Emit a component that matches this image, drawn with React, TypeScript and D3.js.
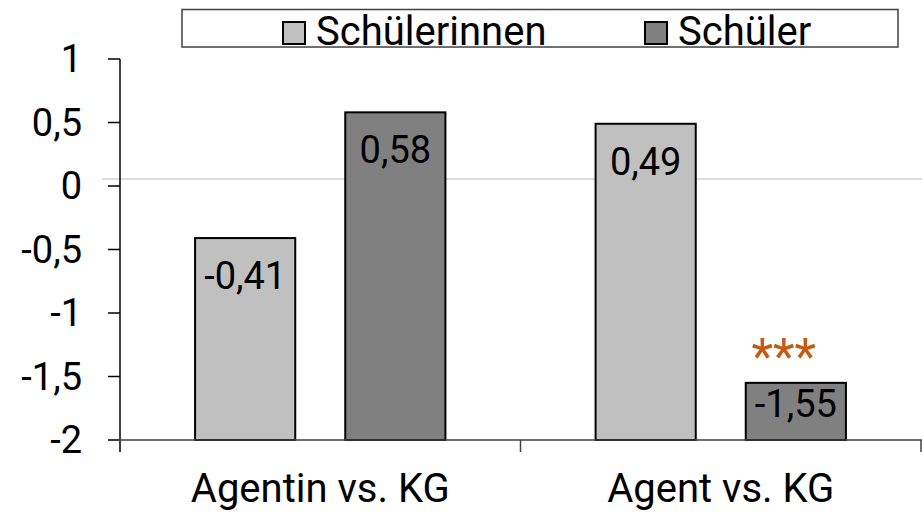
import React from "react";
import * as d3 from "d3";

const categories = ["Agentin vs. KG", "Agent vs. KG"];
const seriesNames = ["Schülerinnen", "Schüler"];
const schuelerinnen = [-0.41, 0.49];
const schueler = [0.58, -1.55];
const significance = [["", ""], ["", "***"]];
const yTicks = [1, 0.5, 0, -0.5, -1, -1.5, -2];
const seriesColors = ["#c0c0c0", "#808080"];
const zeroLineValue = 0.055;

const W = 922;
const H = 513;
const FONT = "Roboto, 'Noto Sans', sans-serif";

const fmt = (v: number) => String(v).replace(".", ",");

export default function App() {
  const left = 120;
  const right = 921;
  const y = d3.scaleLinear().domain([-2, 1]).range([440, 59]);
  const x0 = d3.scaleBand<string>().domain(categories).range([left, right]).padding(0);
  const x1 = d3
    .scaleBand<string>()
    .domain(seriesNames)
    .range([0, x0.bandwidth()])
    .paddingInner(0.333)
    .paddingOuter(0.5);
  const seriesValues = [schuelerinnen, schueler];
  const yBottom = y(-2);

  return (
    <svg
      width={W}
      height={H}
      style={{ position: "absolute", left: 0, top: 0, background: "#fff" }}
      fontFamily={FONT}
    >
      {/* zero reference line */}
      <line x1={102} x2={W} y1={y(zeroLineValue)} y2={y(zeroLineValue)} stroke="#d0d0d0" strokeWidth={1.5} />

      {/* legend */}
      <rect x={182} y={9.5} width={716} height={37.5} fill="#fff" stroke="#404040" strokeWidth={1.5} />
      {seriesNames.map((s, i) => {
        const lx = i === 0 ? 283 : 645;
        return (
          <g key={s}>
            <rect x={lx} y={22} width={22} height={22} fill={seriesColors[i]} stroke="#000" strokeWidth={2} />
            <text x={lx + 33} y={45} fontSize={40} fill="#000">
              {s}
            </text>
          </g>
        );
      })}

      {/* bars */}
      {categories.map((c, ci) =>
        seriesNames.map((s, si) => {
          const v = seriesValues[si][ci];
          const bx = (x0(c) as number) + (x1(s) as number);
          const bw = x1.bandwidth();
          const top = y(v);
          const cx = bx + bw / 2;
          const labelY = Math.min(top + 51, yBottom - 23);
          const star = significance[ci][si];
          return (
            <g key={c + s}>
              <rect x={bx} y={top} width={bw} height={yBottom - top} fill={seriesColors[si]} stroke="#000" strokeWidth={2} />
              <text x={cx} y={labelY} fontSize={38} textAnchor="middle" fill="#000">
                {fmt(v)}
              </text>
              {star && (
                <text x={cx - 12} y={top - 9} fontSize={50} textAnchor="middle" fill="#c55a11">
                  {star}
                </text>
              )}
            </g>
          );
        })
      )}

      {/* y axis */}
      <line x1={left} x2={left} y1={y(1)} y2={452} stroke="#000" strokeWidth={1.5} />
      {yTicks.map((t) => (
        <g key={t}>
          <line x1={108} x2={left} y1={y(t)} y2={y(t)} stroke="#000" strokeWidth={1.5} />
          <text x={82} y={y(t) + 13} fontSize={38} textAnchor="end" fill="#000">
            {fmt(t)}
          </text>
        </g>
      ))}

      {/* x axis */}
      <line x1={108} x2={W} y1={yBottom} y2={yBottom} stroke="#404040" strokeWidth={1.5} />
      {[...categories.map((c) => x0(c) as number), right].map((tx, i) => (
        <line key={i} x1={tx} x2={tx} y1={yBottom} y2={452} stroke="#404040" strokeWidth={1.5} />
      ))}
      {categories.map((c) => (
        <text key={c} x={(x0(c) as number) + x0.bandwidth() / 2} y={502} fontSize={40} textAnchor="middle" fill="#000">
          {c}
        </text>
      ))}
    </svg>
  );
}
